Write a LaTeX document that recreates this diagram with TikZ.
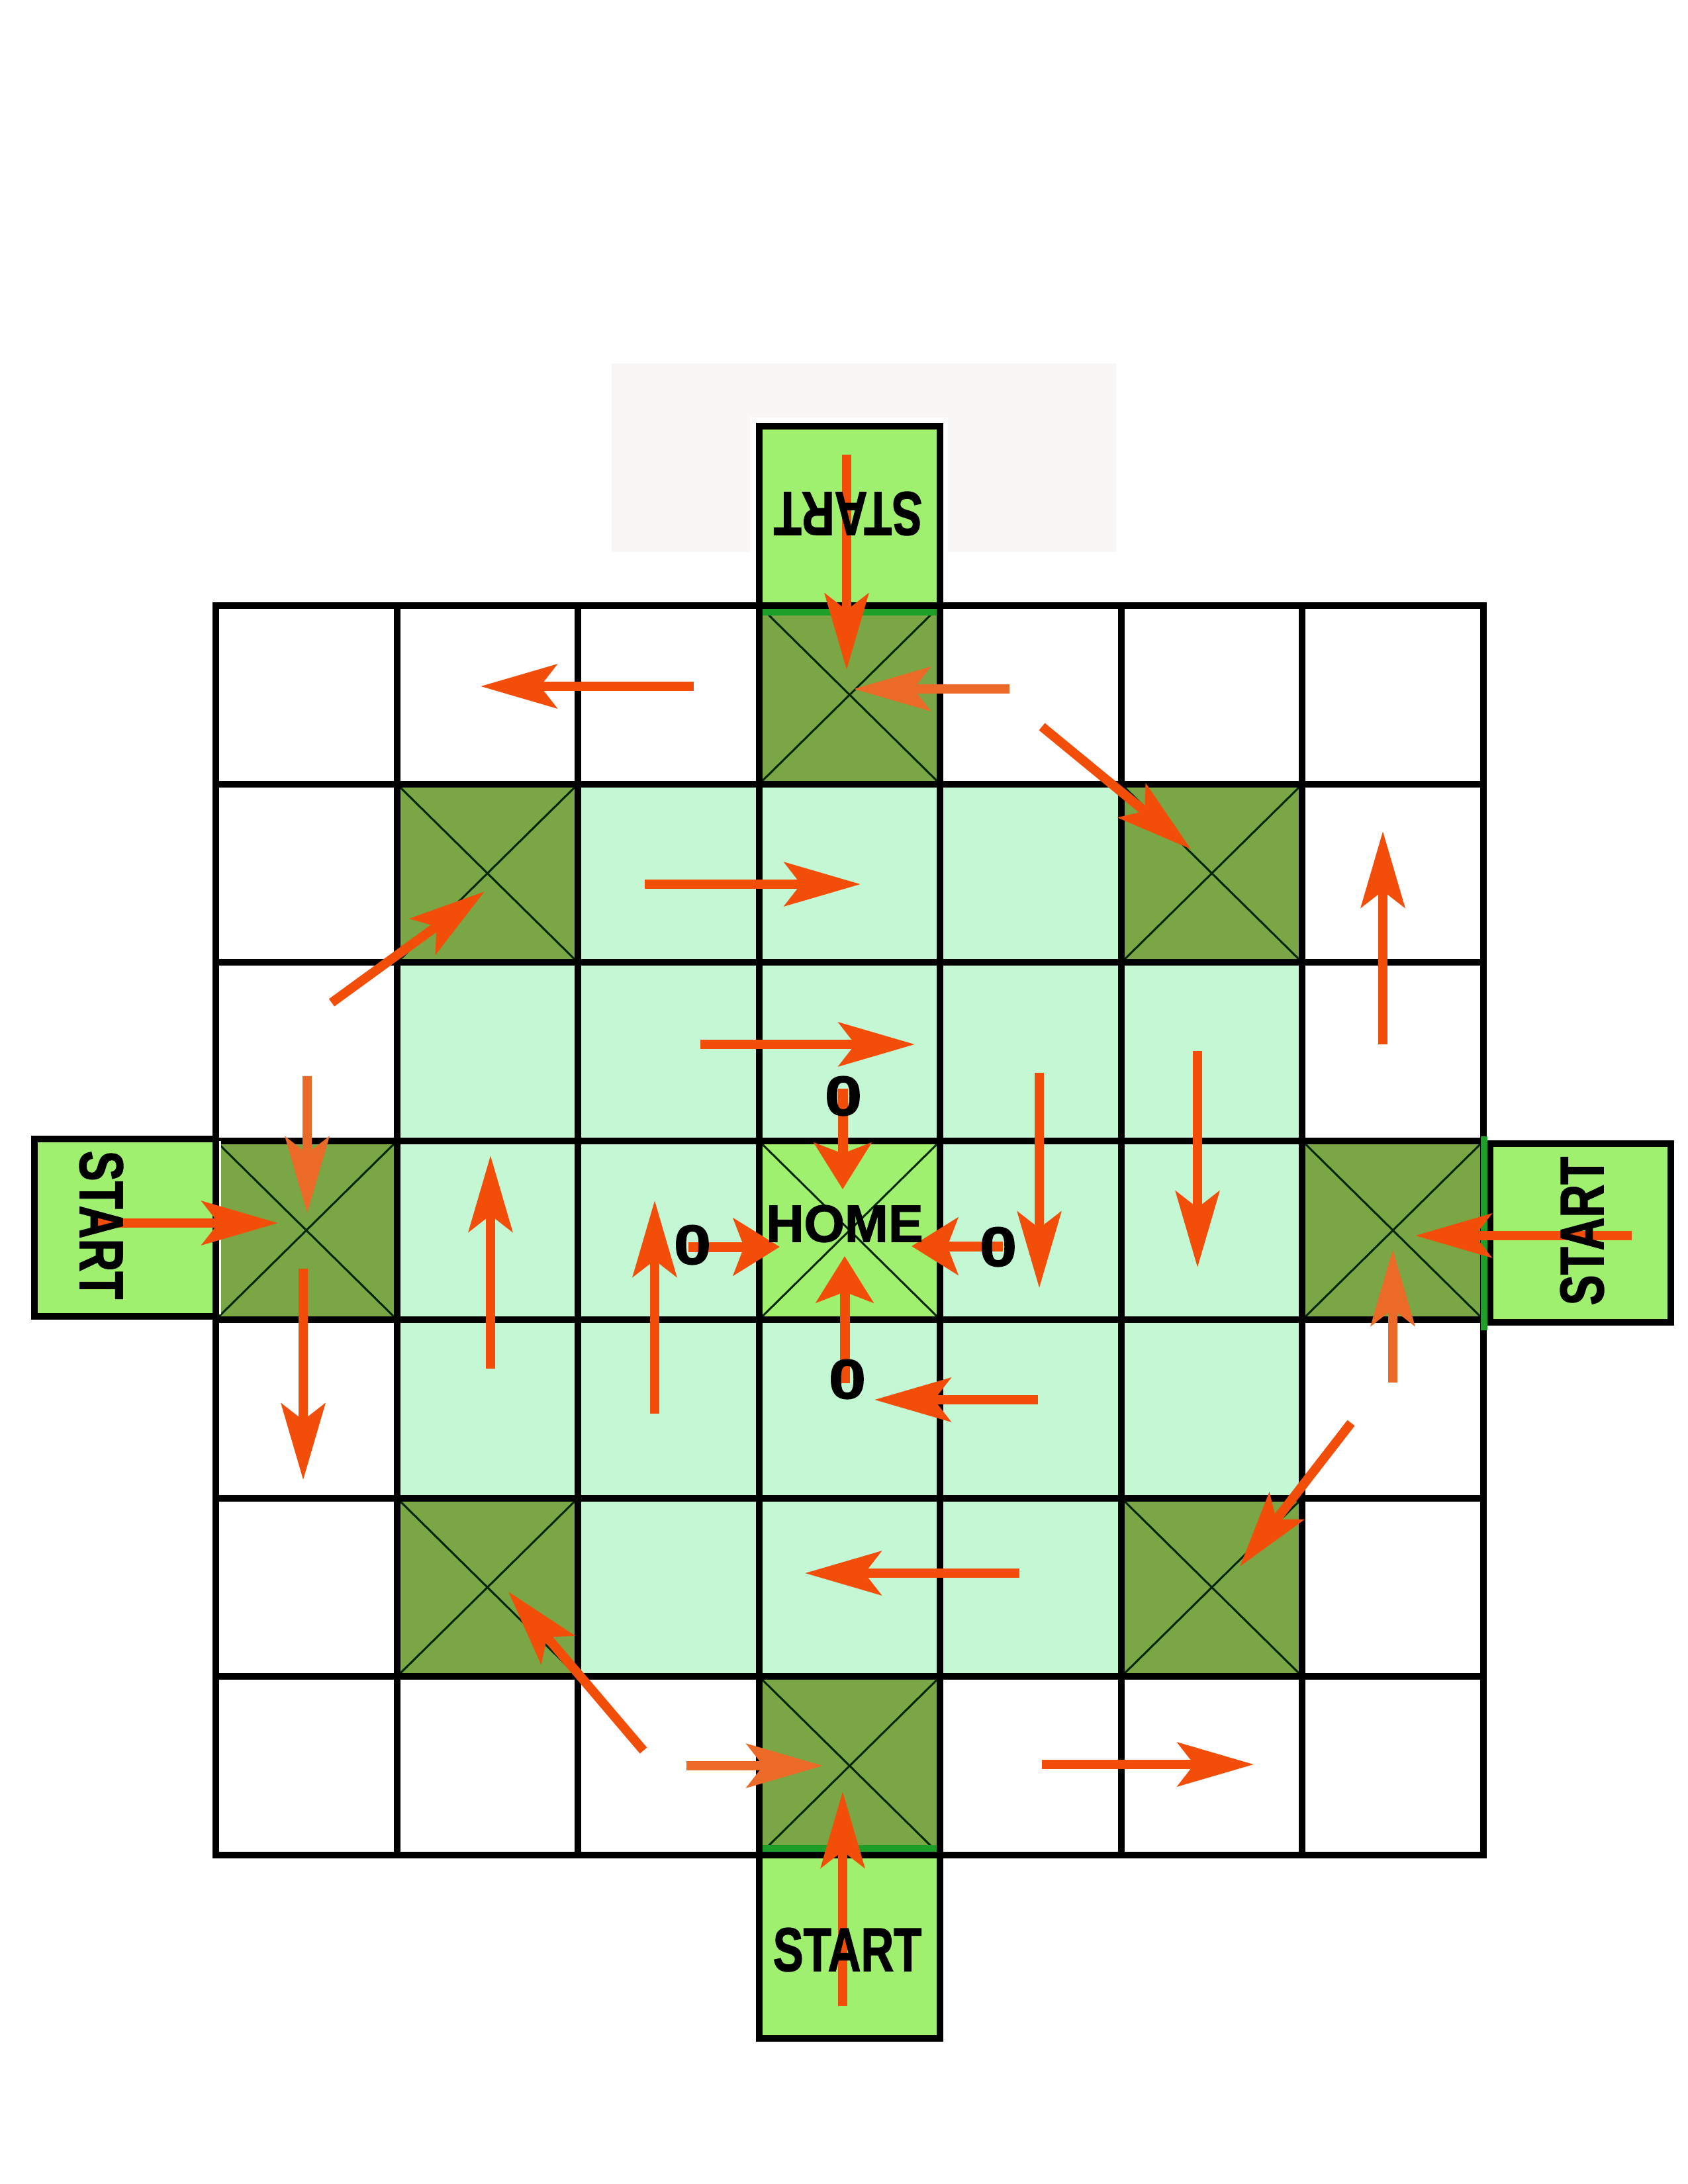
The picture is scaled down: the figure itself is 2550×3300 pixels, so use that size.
\documentclass[tikz,border=0pt]{standalone}
\usepackage{fontspec}
\setmainfont{Liberation Sans}
\newfontfamily\heavyfont[BoldFeatures={FakeBold=1.6}]{Liberation Sans}
\usetikzlibrary{arrows.meta}
\definecolor{lgreen}{RGB}{160,240,112}
\definecolor{dgreen}{RGB}{122,166,70}
\definecolor{pgreen}{RGB}{196,247,212}
\definecolor{arrowA}{RGB}{242,78,10}
\definecolor{arrowB}{RGB}{236,106,40}
\definecolor{edgegreen}{RGB}{30,160,40}
\definecolor{faintpink}{RGB}{249,246,246}
\begin{document}
\begin{tikzpicture}[x=0.1mm,y=-0.1mm,
  gridline/.style={line width=1mm,line cap=rect},
  boxline/.style={line width=1mm,line cap=rect},
  diag/.style={line width=0.3mm,black!85!green},
  arr/.style={line width=1.4mm,arrowA,-{Stealth[length=11.5mm,width=6.6mm,inset=2.5mm]}},
  arrl/.style={arr,arrowB},
  harr/.style={line width=1.5mm,arrowA,-{Stealth[length=7mm,width=8.6mm,inset=1.6mm]}},
  starttext/.style={font=\heavyfont\bfseries\fontsize{26.5}{30}\selectfont,inner sep=0pt},
  hometext/.style={font=\heavyfont\bfseries\fontsize{22.5}{26}\selectfont,inner sep=0pt},
  zerotext/.style={font=\heavyfont\bfseries\fontsize{24}{26}\selectfont,inner sep=0pt}]
\useasboundingbox (0,0) rectangle (2550,3300);
\fill[white] (0,0) rectangle (2550,3300);
% faint background patch
\fill[faintpink] (924,549) rectangle (1686,834);
\fill[white] (1133,631) rectangle (1432,915);
% pale inner area
\fill[pgreen] (599.6,1184.7) rectangle (1967.4,2533.3);
% dark squares
\foreach \c/\r in {3/0,1/1,5/1,0/3,6/3,1/5,5/5,3/6}{
  \fill[dgreen] ({326+\c*273.57},{915+\r*269.71}) rectangle ++(273.57,269.71);
  \draw[diag] ({326+\c*273.57},{915+\r*269.71}) -- ++(273.57,269.71);
  \draw[diag] ({326+(\c+1)*273.57},{915+\r*269.71}) -- ++(-273.57,269.71);
}
% home square
\fill[lgreen] ({326+3*273.57},{915+3*269.71}) rectangle ++(273.57,269.71);
\draw[diag] ({326+3*273.57},{915+3*269.71}) -- ++(273.57,269.71);
\draw[diag] ({326+4*273.57},{915+3*269.71}) -- ++(-273.57,269.71);
% grid
\foreach \i in {0,...,7}{
  \draw[gridline] ({326+\i*273.57},915) -- ({326+\i*273.57},2803);
  \draw[gridline] (326,{915+\i*269.71}) -- (2241,{915+\i*269.71});
}
% start boxes
\filldraw[fill=lgreen,draw=black,boxline] (1147,644) rectangle (1420,915);
\filldraw[fill=lgreen,draw=black,boxline] (1147,2803) rectangle (1420,3080);
\filldraw[fill=lgreen,draw=black,boxline] (52,1721) rectangle (326,1989);
\filldraw[fill=lgreen,draw=black,boxline] (2251,1728) rectangle (2524,1998);
\draw[white,line width=0.3mm] (332,1724) -- (332,1986);
% green edges
\draw[edgegreen,line width=1mm] (1152,925) -- (1415,925);
\draw[edgegreen,line width=1mm] (1152,2793) -- (1415,2793);
\draw[edgegreen,line width=1mm] (2242,1717) -- (2242,2010);
% arrows
\draw[arr]  (1279,687) -- (1279,1012);
\draw[arrl] (1525,1041) -- (1290,1041);
\draw[arr]  (1048,1037) -- (726,1037);
\draw[arr]  (1574,1098) -- (1799,1283);
\draw[arr]  (501,1515) -- (732,1347);
\draw[arr]  (974,1336) -- (1300,1336);
\draw[arr]  (1058,1578) -- (1382,1578);
\draw[arr]  (2089,1578) -- (2089,1256);
\draw[arrl] (464,1626) -- (464,1833);
\draw[arr]  (147,1848) -- (420,1848);
\draw[arr]  (458,1917) -- (458,2236);
\draw[arr]  (741,2068) -- (741,1746);
\draw[arr]  (989,2136) -- (989,1814);
\draw[arr]  (1570,1621) -- (1570,1946);
\draw[arr]  (1809,1588) -- (1809,1915);
\draw[arr]  (2465,1867) -- (2138,1867);
\draw[arrl] (2104,2089) -- (2104,1888);
\draw[arr]  (2041,2150) -- (1873,2367);
\draw[arr]  (1568,2115) -- (1321,2115);
\draw[arr]  (1540,2377) -- (1216,2377);
\draw[arr]  (972,2645) -- (768,2405);
\draw[arrl] (1037,2668) -- (1243,2668);
\draw[arr]  (1273,3031) -- (1273,2707);
\draw[arr]  (1574,2666) -- (1894,2666);
% home arrows
\draw[harr] (1273,1645) -- (1273,1797);
\draw[harr] (1040,1884) -- (1178,1884);
\draw[harr] (1515,1883) -- (1377,1883);
\draw[harr] (1276,2090) -- (1276,1898);
% texts
\node[starttext,rotate=180] (st) at (1281,776) {\scalebox{0.74}[1]{START}};
\node[starttext,rotate=-90] (sl) at (153,1851) {\scalebox{0.74}[1]{START}};
\node[starttext,rotate=90] (sr) at (2390,1860) {\scalebox{0.74}[1]{START}};
\node[starttext] (sb) at (1280,2946) {\scalebox{0.74}[1]{START}};
\node[hometext] (home) at (1276,1849) {HOME};
\node[zerotext] (z1) at (1274,1656) {\scalebox{1.2}[1]{0}};
\node[zerotext] (z2) at (1046,1881) {\scalebox{1.2}[1]{0}};
\node[zerotext] (z3) at (1508,1884) {\scalebox{1.2}[1]{0}};
\node[zerotext] (z4) at (1280,2084) {\scalebox{1.2}[1]{0}};
\end{tikzpicture}
\end{document}
